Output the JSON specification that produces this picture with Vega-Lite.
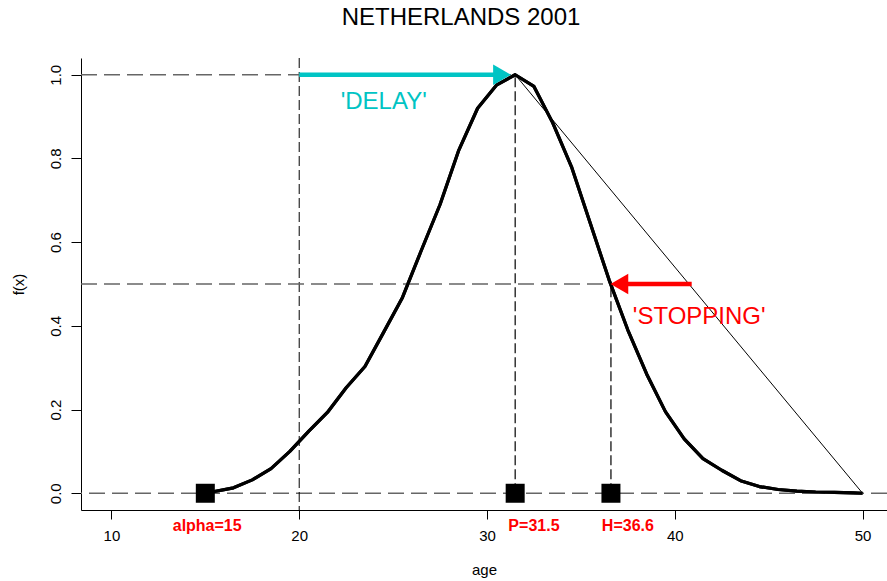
{
  "$schema": "https://vega.github.io/schema/vega-lite/v6.json",
  "autosize": "none",
  "width": 806,
  "height": 452,
  "padding": {"left": 81, "top": 58, "right": 0, "bottom": 71},
  "background": "white",
  "config": {
    "view": {"stroke": null},
    "font": "Liberation Sans"
  },
  "title": {"text": "NETHERLANDS 2001", "fontSize": 24, "fontWeight": "normal", "font": "Liberation Sans", "color": "black", "anchor": "middle", "offset": 28, "dx": -23},
  "datasets": {
    "curve": [
      {"age": 15, "f": 0}, {"age": 16.5, "f": 0.013}, {"age": 17.5, "f": 0.032}, {"age": 18.5, "f": 0.059},
      {"age": 19.5, "f": 0.1}, {"age": 20.5, "f": 0.148}, {"age": 21.5, "f": 0.193}, {"age": 22.5, "f": 0.252},
      {"age": 23.5, "f": 0.303}, {"age": 24.5, "f": 0.385}, {"age": 25.5, "f": 0.468}, {"age": 26.5, "f": 0.58},
      {"age": 27.5, "f": 0.69}, {"age": 28.5, "f": 0.82}, {"age": 29.5, "f": 0.92}, {"age": 30.5, "f": 0.975},
      {"age": 31.5, "f": 1.0}, {"age": 32.5, "f": 0.972}, {"age": 33.5, "f": 0.885}, {"age": 34.5, "f": 0.78},
      {"age": 35.5, "f": 0.645}, {"age": 36.5, "f": 0.51}, {"age": 37.5, "f": 0.39}, {"age": 38.5, "f": 0.285},
      {"age": 39.5, "f": 0.195}, {"age": 40.5, "f": 0.13}, {"age": 41.5, "f": 0.083}, {"age": 42.5, "f": 0.055},
      {"age": 43.5, "f": 0.03}, {"age": 44.5, "f": 0.016}, {"age": 45.5, "f": 0.009}, {"age": 46.5, "f": 0.005},
      {"age": 47.5, "f": 0.003}, {"age": 48.5, "f": 0.002}, {"age": 49.5, "f": 0.001}, {"age": 50, "f": 0}
    ],
    "chord": [{"age": 31.5, "f": 1}, {"age": 50, "f": 0}],
    "hsegs": [{"x1": 8.38, "x2": 31.5, "y": 1}, {"x1": 8.38, "x2": 36.6, "y": 0.5}],
    "vsegs": [{"x": 31.5, "y1": 0, "y2": 1}, {"x": 36.6, "y1": 0, "y2": 0.5}],
    "squares": [{"age": 15, "f": 0}, {"age": 31.5, "f": 0}, {"age": 36.6, "f": 0}],
    "marks": [
      {"age": 15.1, "f": -0.09, "label": "alpha=15"},
      {"age": 32.5, "f": -0.09, "label": "P=31.5"},
      {"age": 37.5, "f": -0.09, "label": "H=36.6"}
    ]
  },
  "layer": [
    {
      "data": {"name": "curve"},
      "mark": {"type": "line", "color": "black", "strokeWidth": 3.2, "strokeJoin": "round"},
      "encoding": {
        "x": {"field": "age", "type": "quantitative", "title": "age",
          "scale": {"domain": [8.38, 51.3], "nice": false, "zero": false},
          "axis": {"values": [10, 20, 30, 40, 50], "grid": false, "domainColor": "black", "domainWidth": 1, "tickColor": "black",
            "tickSize": 9, "labelPadding": 9, "labelFontSize": 15, "labelColor": "black", "labelFont": "Liberation Sans",
            "titleFontSize": 15, "titleFontWeight": "normal", "titleColor": "black", "titleFont": "Liberation Sans", "titlePadding": 19}},
        "y": {"field": "f", "type": "quantitative", "title": "f(x)",
          "scale": {"domain": [-0.04, 1.04], "nice": false, "zero": false},
          "axis": {"values": [0, 0.2, 0.4, 0.6, 0.8, 1.0], "format": ".1f", "grid": false, "domainColor": "black", "domainWidth": 1, "tickColor": "black",
            "tickSize": 10, "labelAngle": -90, "labelAlign": "center", "labelBaseline": "bottom", "labelPadding": 8,
            "labelFontSize": 15, "labelColor": "black", "labelFont": "Liberation Sans",
            "titleFontSize": 15, "titleFontWeight": "normal", "titleColor": "black", "titleFont": "Liberation Sans", "titlePadding": 22}}
      }
    },
    {
      "data": {"values": [{"v": 0}]},
      "mark": {"type": "rule", "color": "#666666", "strokeDash": [16, 7], "strokeWidth": 1.3},
      "encoding": {"y": {"field": "v", "type": "quantitative", "title": "f(x)"}}
    },
    {
      "data": {"values": [{"v": 20}]},
      "mark": {"type": "rule", "color": "black", "strokeDash": [10, 4], "strokeWidth": 1},
      "encoding": {"x": {"field": "v", "type": "quantitative", "title": "age"}}
    },
    {
      "data": {"name": "hsegs"},
      "mark": {"type": "rule", "color": "#666666", "strokeDash": [16, 7], "strokeWidth": 1.3},
      "encoding": {
        "x": {"field": "x1", "type": "quantitative", "title": "age"},
        "x2": {"field": "x2"},
        "y": {"field": "y", "type": "quantitative", "title": "f(x)"}
      }
    },
    {
      "data": {"name": "vsegs"},
      "mark": {"type": "rule", "color": "black", "strokeDash": [10, 4], "strokeWidth": 1.2},
      "encoding": {
        "x": {"field": "x", "type": "quantitative", "title": "age"},
        "y": {"field": "y1", "type": "quantitative", "title": "f(x)"},
        "y2": {"field": "y2"}
      }
    },
    {
      "data": {"name": "chord"},
      "mark": {"type": "line", "color": "black", "strokeWidth": 1},
      "encoding": {
        "x": {"field": "age", "type": "quantitative", "title": "age"},
        "y": {"field": "f", "type": "quantitative", "title": "f(x)"}
      }
    },
    {
      "data": {"name": "curve"},
      "mark": {"type": "line", "color": "black", "strokeWidth": 3.2, "strokeJoin": "round"},
      "encoding": {
        "x": {"field": "age", "type": "quantitative", "title": "age"},
        "y": {"field": "f", "type": "quantitative", "title": "f(x)"}
      }
    },
    {
      "data": {"values": [{"x1": 20, "x2": 30.7, "y": 1}]},
      "mark": {"type": "rule", "color": "#00C4C4", "strokeWidth": 4.5},
      "encoding": {
        "x": {"field": "x1", "type": "quantitative", "title": "age"},
        "x2": {"field": "x2"},
        "y": {"field": "y", "type": "quantitative", "title": "f(x)"}
      }
    },
    {
      "data": {"values": [{"x": 30.8, "y": 1}]},
      "mark": {"type": "point", "shape": "triangle-right", "filled": true, "color": "#00C4C4", "size": 420, "opacity": 1},
      "encoding": {
        "x": {"field": "x", "type": "quantitative", "title": "age"},
        "y": {"field": "y", "type": "quantitative", "title": "f(x)"}
      }
    },
    {
      "data": {"values": [{"x1": 37.2, "x2": 40.9, "y": 0.5}]},
      "mark": {"type": "rule", "color": "#FF0000", "strokeWidth": 4.5},
      "encoding": {
        "x": {"field": "x1", "type": "quantitative", "title": "age"},
        "x2": {"field": "x2"},
        "y": {"field": "y", "type": "quantitative", "title": "f(x)"}
      }
    },
    {
      "data": {"values": [{"x": 37.05, "y": 0.5}]},
      "mark": {"type": "point", "shape": "triangle-left", "filled": true, "color": "#FF0000", "size": 420, "opacity": 1},
      "encoding": {
        "x": {"field": "x", "type": "quantitative", "title": "age"},
        "y": {"field": "y", "type": "quantitative", "title": "f(x)"}
      }
    },
    {
      "data": {"values": [{"x": 24.5, "y": 0.918, "t": "'DELAY'"}]},
      "mark": {"type": "text", "color": "#00C4C4", "fontSize": 24, "font": "Liberation Sans", "align": "center", "baseline": "alphabetic"},
      "encoding": {
        "x": {"field": "x", "type": "quantitative", "title": "age"},
        "y": {"field": "y", "type": "quantitative", "title": "f(x)"},
        "text": {"field": "t"}
      }
    },
    {
      "data": {"values": [{"x": 41.3, "y": 0.404, "t": "'STOPPING'"}]},
      "mark": {"type": "text", "color": "#FF0000", "fontSize": 24, "font": "Liberation Sans", "align": "center", "baseline": "alphabetic"},
      "encoding": {
        "x": {"field": "x", "type": "quantitative", "title": "age"},
        "y": {"field": "y", "type": "quantitative", "title": "f(x)"},
        "text": {"field": "t"}
      }
    },
    {
      "data": {"name": "squares"},
      "mark": {"type": "point", "shape": "square", "filled": true, "color": "black", "size": 361, "opacity": 1},
      "encoding": {
        "x": {"field": "age", "type": "quantitative", "title": "age"},
        "y": {"field": "f", "type": "quantitative", "title": "f(x)"}
      }
    },
    {
      "data": {"name": "marks"},
      "mark": {"type": "text", "color": "#FF0000", "fontSize": 16, "fontWeight": "bold", "font": "Liberation Sans", "align": "center", "baseline": "alphabetic"},
      "encoding": {
        "x": {"field": "age", "type": "quantitative", "title": "age"},
        "y": {"field": "f", "type": "quantitative", "title": "f(x)"},
        "text": {"field": "label"}
      }
    }
  ]
}
